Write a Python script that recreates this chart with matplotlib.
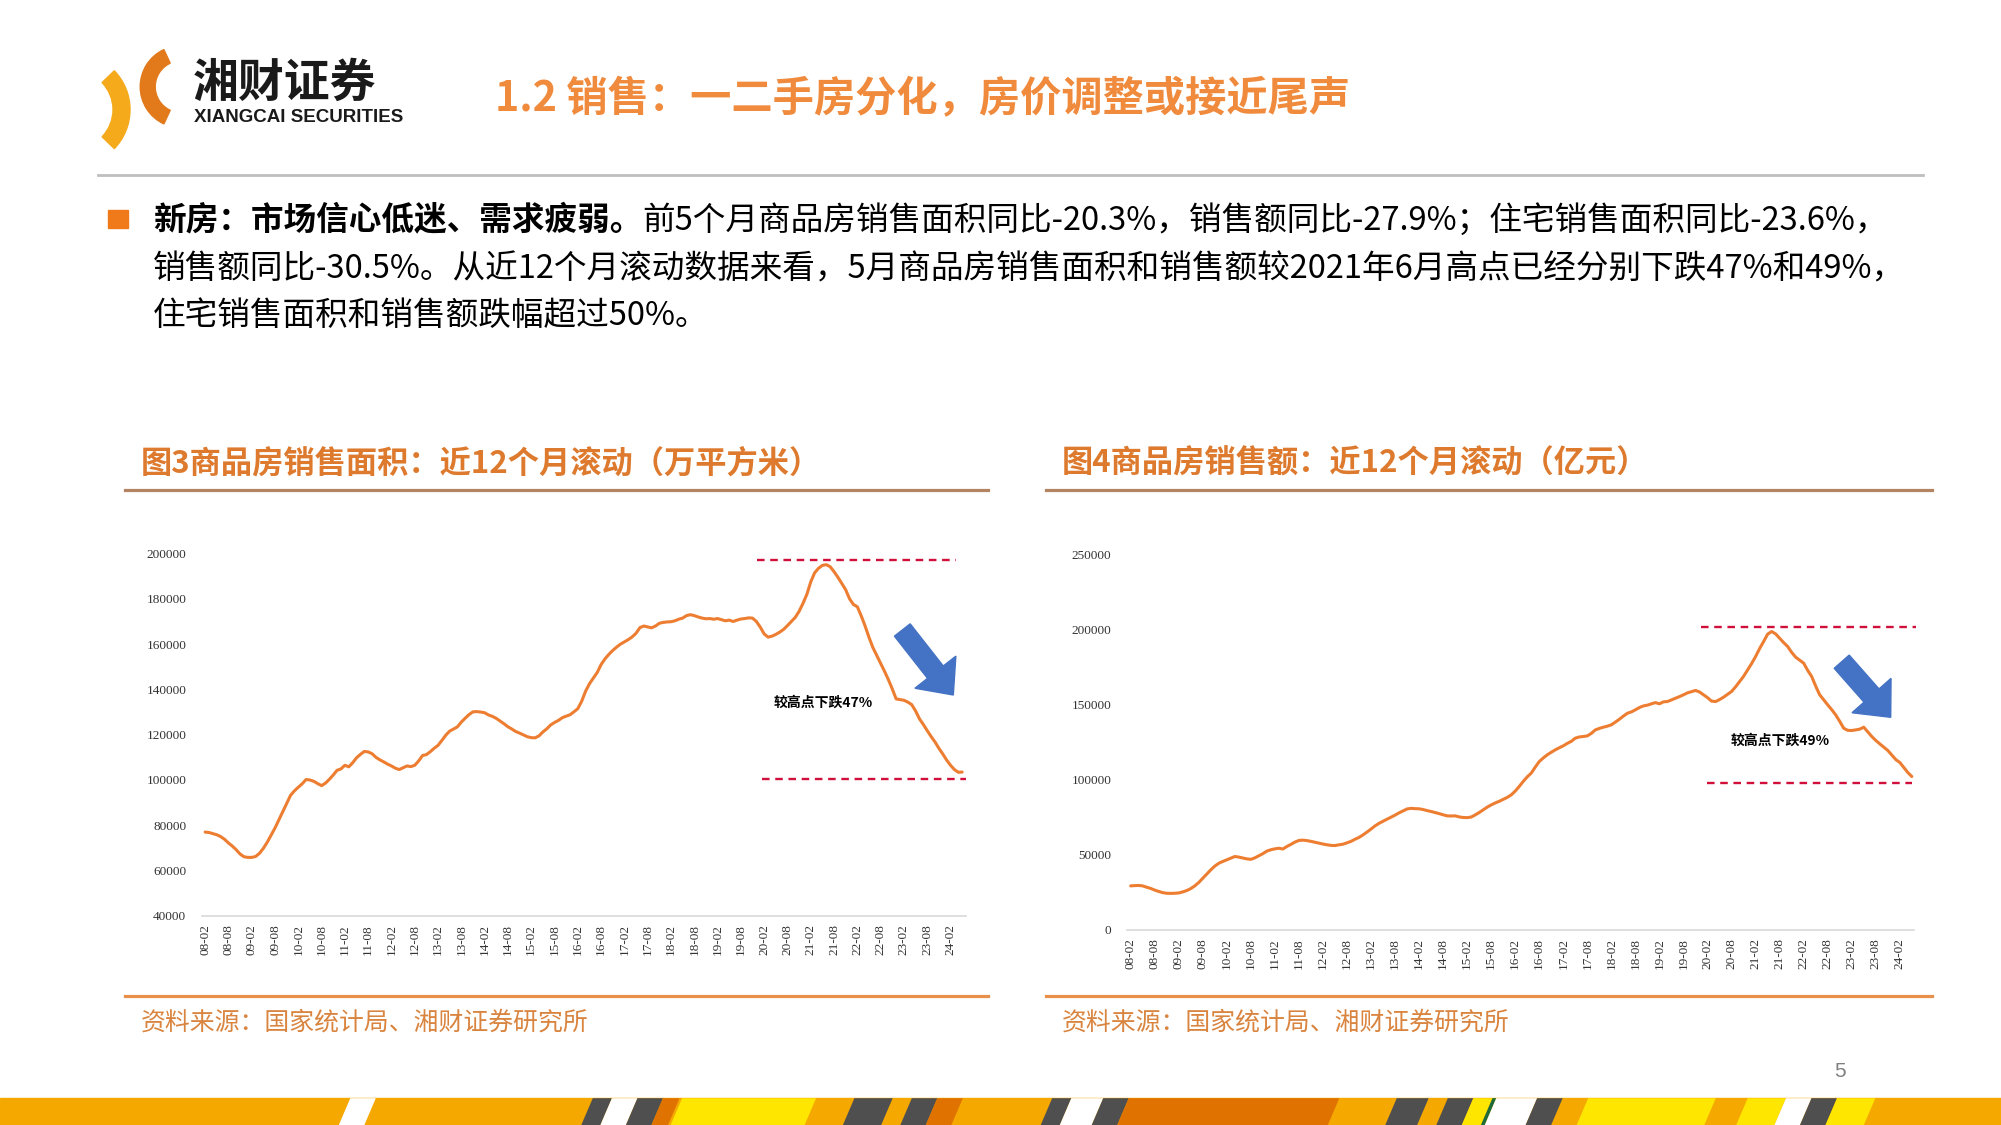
import matplotlib
matplotlib.use('Agg')
import matplotlib.pyplot as plt
from matplotlib.patches import Polygon, Rectangle, FancyArrow, Wedge
import numpy as np

plt.rcParams['font.family'] = ['Noto Sans CJK SC', 'DejaVu Sans']

# ---------------- data ----------------
x_labels = ['08-02', '08-08', '09-02', '09-08', '10-02', '10-08', '11-02', '11-08',
            '12-02', '12-08', '13-02', '13-08', '14-02', '14-08', '15-02', '15-08',
            '16-02', '16-08', '17-02', '17-08', '18-02', '18-08', '19-02', '19-08',
            '20-02', '20-08', '21-02', '21-08', '22-02', '22-08', '23-02', '23-08',
            '24-02']

# 商品房销售面积 近12个月滚动 (万平方米), monthly 2008-02 .. 2024-05
area = [
    77000, 76800, 76300, 75800, 75000, 73800, 72200, 70800, 69200, 67300, 66100, 65800,
    65800, 66200, 67600, 69800, 72500, 75600, 78800, 82400, 86000, 89600, 93200, 95200,
    96800, 98300, 100200, 100000, 99400, 98400, 97500, 98600, 100300, 102200, 104300, 104900,
    106500, 105800, 107600, 109800, 111300, 112600, 112400, 111600, 110000, 108900, 108000, 107000,
    106200, 105200, 104600, 105400, 106200, 105900, 106500, 108400, 110800, 111200, 112500, 114000,
    115300, 117500, 119800, 121600, 122500, 123500, 125600, 127300, 128900, 130100, 130200, 130000,
    129700, 128700, 128100, 127200, 126000, 124800, 123500, 122500, 121400, 120700, 119900, 119100,
    118700, 118600, 119500, 121200, 122600, 124300, 125400, 126300, 127500, 128200, 128800, 130100,
    131500, 134800, 139200, 142500, 145000, 147500, 151000, 153500, 155500, 157200, 158700, 160000,
    161000, 162000, 163200, 164800, 167300, 168000, 167600, 167200, 168000, 169200, 169600, 169800,
    169900, 170300, 171000, 171500, 172600, 173000, 172600, 172000, 171500, 171200, 171300, 171000,
    171300, 170800, 170300, 170600, 170000, 170600, 171100, 171300, 171600, 171500, 170000, 167500,
    164500, 163100, 163500, 164300, 165300, 166500, 168200, 170000, 171800, 174500, 178000, 182000,
    187500, 191500, 193500, 194800, 195100, 194200, 192000, 189500, 186800, 184000, 180000, 177500,
    176500, 172500, 168000, 163000, 158500, 155000, 151500, 148000, 144300, 140200, 135800, 135500,
    135200, 134400, 133300, 130500, 127000, 124500, 121800, 119200, 116800, 114000, 111500, 108800,
    106500, 104600, 103400, 103500]

# 商品房销售额 近12个月滚动 (亿元), monthly 2008-02 .. 2024-05
amount = [
    29300, 29500, 29600, 29300, 28400, 27600, 26500, 25600, 24800, 24400, 24300, 24400,
    24600, 25300, 26200, 27500, 29300, 31600, 34400, 37200, 40000, 42500, 44400, 45600,
    46700, 47800, 48900, 48500, 47900, 47300, 47000, 48000, 49400, 50800, 52500, 53400,
    54000, 54400, 53900, 55600, 57000, 58500, 59600, 59800, 59500, 59000, 58400, 57800,
    57200, 56700, 56300, 56200, 56700, 57100, 58000, 59000, 60400, 61600, 63300, 65200,
    67200, 69300, 71000, 72400, 73800, 75100, 76500, 78000, 79300, 80600, 81000, 80800,
    80700, 80200, 79500, 78900, 78200, 77500, 76700, 76000, 75900, 76000, 75300, 74900,
    74800, 75200, 76600, 78200, 80000, 81800, 83300, 84600, 85700, 87000, 88300, 90000,
    92500, 95600, 99000, 102000, 104500, 108500, 112200, 114600, 116700, 118400, 120000, 121400,
    122700, 124300, 125700, 127800, 128600, 128900, 129300, 131000, 133300, 134300, 135100, 135800,
    136700, 138500, 140400, 142500, 144400, 145300, 146700, 148200, 149300, 149800, 150700, 151500,
    150700, 152000, 152200, 153300, 154400, 155500, 156700, 158000, 158800, 159600, 158600, 156700,
    154800, 152500, 152200, 153500, 155100, 157000, 158900, 162000, 165500, 169000, 173300, 177500,
    182200, 187500, 192200, 197100, 198900, 197300, 194400, 191500, 188900, 185000, 181800, 179800,
    177800, 173000, 168900, 162500, 156700, 153300, 150000, 146800, 143300, 139000, 134400, 133000,
    132900, 133300, 133800, 135100, 132000, 128900, 126300, 124000, 121800, 119600, 116500, 113500,
    111600, 108200, 104900, 102200]

area_ref_high = 197000
area_ref_low = 100500
amount_ref_high = 201600
amount_ref_low = 97800

area_yticks = [40000, 60000, 80000, 100000, 120000, 140000, 160000, 180000, 200000]
amount_yticks = [0, 50000, 100000, 150000, 200000, 250000]

# ---------------- layout helpers ----------------
W, H = 2001, 1125
DW, DH = 1568.0, 882.0


def fx(x):
    return x / DW


def fy(y):
    return 1 - y / DH


def inx(x):
    return x / DW * W / 100.0


def iny(y):
    return (DH - y) / DH * H / 100.0


fig = plt.figure(figsize=(W / 100, H / 100), dpi=100)
fig.patch.set_facecolor('white')

LINE_C = '#ED7D31'
DASH_C = '#D0103A'
ARROW_C = '#4472C4'
TITLE_C = '#DD7A2E'
SERIF = 'Liberation Serif'


def make_chart(rect, data, ylim, yticks, xlim, hi, lo):
    ax = fig.add_axes(rect)
    idx = np.arange(len(data))
    ax.plot(idx, data, color=LINE_C, lw=2.2, solid_joinstyle='round', solid_capstyle='round')
    ax.set_xlim(*xlim)
    ax.set_ylim(*ylim)
    for s in ['top', 'right', 'left']:
        ax.spines[s].set_visible(False)
    ax.spines['bottom'].set_color('#D9D9D9')
    ax.spines['bottom'].set_linewidth(1.2)
    ax.set_yticks(yticks)
    ax.set_yticklabels([str(v) for v in yticks], fontfamily=SERIF, fontsize=9.5, color='#333333')
    ax.set_xticks(np.arange(0, 6 * len(x_labels), 6))
    ax.set_xticklabels(x_labels, rotation=90, fontfamily=SERIF, fontsize=9.5, color='#333333')
    ax.tick_params(axis='y', length=0, pad=11)
    ax.tick_params(axis='x', length=0, pad=6)
    ax.patch.set_alpha(0)
    ax.hlines(hi[0], hi[1], hi[2], colors=DASH_C, linestyles=(0, (3.2, 2.4)), lw=1.7, clip_on=False)
    ax.hlines(lo[0], lo[1], lo[2], colors=DASH_C, linestyles=(0, (3.2, 2.4)), lw=1.7, clip_on=False)
    return ax


ax1 = make_chart([fx(158), fy(718), fx(757) - fx(158), fy(434) - fy(718)], area,
                 (40000, 200000), area_yticks, (-0.9, 196.0),
                 (area_ref_high, 142.2, 193.3), (area_ref_low, 143.5, 195.9))
ax2 = make_chart([fx(883), fy(729), fx(1500) - fx(883), fy(435) - fy(729)], amount,
                 (0, 250000), amount_yticks, (-0.96, 195.6),
                 (amount_ref_high, 142.4, 196.0), (amount_ref_low, 143.8, 195.0))

# arrows (inches, isotropic)
for (tx, ty, hx, hy) in [(9.023, 4.95, 9.533, 4.30), (18.417, 4.633, 18.907, 4.077)]:
    arr = FancyArrow(tx, ty, hx - tx, hy - ty, width=0.20, head_width=0.52, head_length=0.29,
                     length_includes_head=True, color=ARROW_C, transform=fig.dpi_scale_trans)
    fig.add_artist(arr)

fig.text(fx(645), fy(551), '较高点下跌47%', fontsize=10, weight='bold', ha='center', va='center', color='black')
fig.text(fx(1395), fy(581), '较高点下跌49%', fontsize=10, weight='bold', ha='center', va='center', color='black')

# ---------------- header ----------------
fig.add_artist(Wedge((inx(142), iny(68)), 0.41, 115, 245, width=0.15, color='#E27A1C',
                     transform=fig.dpi_scale_trans))
fig.add_artist(Wedge((inx(58), iny(86)), 0.56, -44, 44, width=0.17, color='#F5AA1C',
                     transform=fig.dpi_scale_trans))
fig.text(fx(151), fy(66), '湘财证券', fontsize=33, weight='bold', color='#1A1A1A', va='center', ha='left')
fig.text(fx(152), fy(92), 'XIANGCAI SECURITIES', fontsize=13.5, weight='bold', color='#1A1A1A',
         va='center', ha='left', family=['Liberation Sans', 'DejaVu Sans'])
fig.text(fx(388), fy(78), '1.2 销售：一二手房分化，房价调整或接近尾声', fontsize=29.7, weight='bold',
         color='#F08A3C', va='center', ha='left')
fig.add_artist(plt.Line2D([fx(77), fx(1507)], [fy(137), fy(137)], color='#BFBFBF', lw=2,
                          transform=fig.transFigure))

# bullet
fig.add_artist(Rectangle((fx(85), fy(179)), fx(15), fy(165) - fy(179), color='#F07A1A',
                         transform=fig.transFigure))

BODY_FS = 23.5
renderer = fig.canvas.get_renderer()
t1 = fig.text(fx(120), fy(173), '新房：市场信心低迷、需求疲弱。', fontsize=BODY_FS, weight='bold',
              va='center', ha='left', color='black')
bb = t1.get_window_extent(renderer)
fig.text(bb.x1 / W, fy(173), '前5个月商品房销售面积同比-20.3%，销售额同比-27.9%；住宅销售面积同比-23.6%，',
         fontsize=BODY_FS, va='center', ha='left', color='black')
fig.text(fx(120), fy(211), '销售额同比-30.5%。从近12个月滚动数据来看，5月商品房销售面积和销售额较2021年6月高点已经分别下跌47%和49%，',
         fontsize=BODY_FS, va='center', ha='left', color='black')
fig.text(fx(120), fy(248), '住宅销售面积和销售额跌幅超过50%。', fontsize=BODY_FS, va='center', ha='left', color='black')

# chart titles and rules
fig.text(fx(110), fy(363), '图3商品房销售面积：近12个月滚动（万平方米）', fontsize=22.5, weight='bold',
         color=TITLE_C, va='center', ha='left')
fig.text(fx(832), fy(363), '图4商品房销售额：近12个月滚动（亿元）', fontsize=22.5, weight='bold',
         color=TITLE_C, va='center', ha='left')
for (x0, x1) in [(98, 774), (820, 1514)]:
    fig.add_artist(plt.Line2D([fx(x0), fx(x1)], [fy(384), fy(384)], color='#B4835F', lw=2.3,
                              transform=fig.transFigure))
    fig.add_artist(plt.Line2D([fx(x0), fx(x1)], [fy(781), fy(781)], color='#E8904A', lw=2.3,
                              transform=fig.transFigure))
fig.text(fx(110), fy(802), '资料来源：国家统计局、湘财证券研究所', fontsize=17.9, color='#D9843F',
         va='center', ha='left')
fig.text(fx(832), fy(802), '资料来源：国家统计局、湘财证券研究所', fontsize=17.9, color='#D9843F',
         va='center', ha='left')

fig.text(fx(1442), fy(840), '5', fontsize=15, color='#808080', va='center', ha='center',
         family=['Liberation Sans', 'DejaVu Sans'])

# ---------------- bottom stripes ----------------
BASE = '#F5A800'
GRAY = '#4F4F4F'
DORG = '#E07200'
YEL = '#FFE600'
WHT = '#FFFFFF'
stripes = [(270, 290, WHT), (460, 475, GRAY), (475, 495, WHT), (495, 515, GRAY), (515, 528, DORG),
           (530, 635, YEL), (665, 695, GRAY), (710, 730, GRAY), (730, 750, DORG),
           (820, 835, GRAY), (835, 860, WHT), (860, 880, GRAY), (880, 1045, DORG),
           (1090, 1115, GRAY), (1130, 1150, GRAY), (1150, 1165, YEL), (1165, 1168, '#1E6B3A'),
           (1168, 1200, WHT), (1200, 1220, GRAY), (1240, 1340, YEL), (1365, 1395, YEL),
           (1395, 1415, WHT), (1415, 1435, GRAY), (1435, 1465, YEL)]
top, bot = 861, 882
fig.add_artist(Rectangle((0, 0), 1, fy(top), color=BASE, transform=fig.transFigure))
slant = 9
for (a, b, c) in stripes:
    poly = Polygon([(fx(a + slant / 2), fy(top)), (fx(b + slant / 2), fy(top)),
                    (fx(b - slant / 2), 0), (fx(a - slant / 2), 0)], closed=True, color=c,
                   transform=fig.transFigure, lw=0)
    fig.add_artist(poly)

fig.savefig('out.png', dpi=100, facecolor='white')
